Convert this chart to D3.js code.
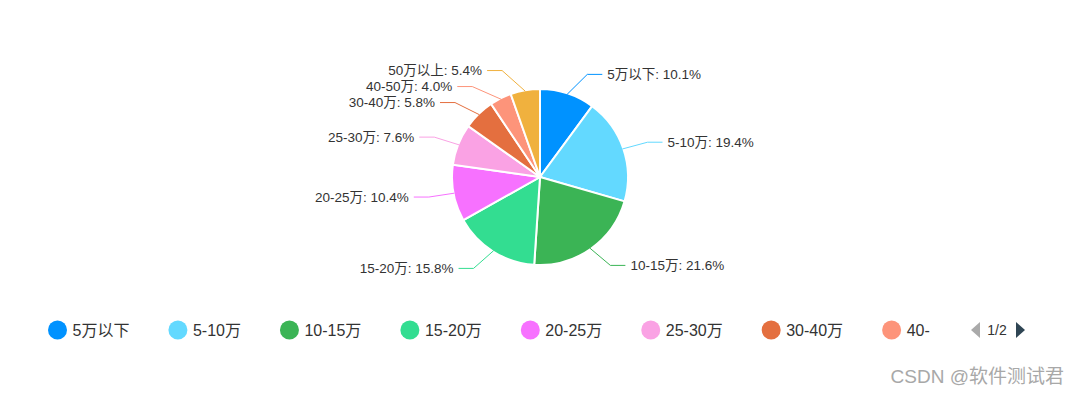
<!DOCTYPE html>
<html>
<head>
<meta charset="utf-8">
<script src="https://cdn.jsdelivr.net/npm/d3@7"></script>
<style>
  html, body { margin: 0; padding: 0; background: #fff; }
  svg { display: block; font-family: "Liberation Sans", "Noto Sans CJK SC", sans-serif; }
</style>
</head>
<body>
<div id="chart"></div>
<script>
// pie js
const categories = ['5万以下', '5-10万', '10-15万', '15-20万', '20-25万', '25-30万', '30-40万', '40-50万', '50万以上'];
const values = [10.1, 19.4, 21.6, 15.8, 10.4, 7.6, 5.8, 4.0, 5.4];
const colors = ['#0092ff', '#63d9ff', '#3bb455', '#33dd91', '#f771ff', '#faa2e4', '#e46f3f', '#fd947a', '#f0b13e'];
const legendShown = 8, pageLabel = '1/2';

let width = 1080, height = 394;
let cx = 540, cy = 177, radius = 88;

let svg = d3.select('#chart').append('svg')
    .attr('width', width)
    .attr('height', height);

let data = categories.map(function(c, i){ return {name: c, value: values[i], color: colors[i]}; });

let pie = d3.pie().sort(null).value(function(d){ return d.value; });
let arcs = pie(data);
let arc = d3.arc().innerRadius(0).outerRadius(radius);

let g = svg.append('g').attr('transform', 'translate(' + cx + ',' + cy + ')');

g.selectAll('path.slice')
    .data(arcs)
    .enter()
    .append('path')
    .attr('class', 'slice')
    .attr('d', arc)
    .attr('fill', function(d){ return d.data.color; })
    .attr('stroke', '#fff')
    .attr('stroke-width', 2);

// label layout - elbow points, then push apart on each side
let elbowR = 108, xR = 113, len2 = 15, minGap = 16;
let labels = arcs.map(function(d){
    let a = (d.startAngle + d.endAngle) / 2;
    return {
        d: d,
        a: a,
        right: Math.sin(a) >= 0,
        sx: Math.sin(a) * (radius - 1),
        sy: -Math.cos(a) * (radius - 1),
        y: -Math.cos(a) * elbowR
    };
});

function spread(side){
    let list = labels.filter(function(l){ return l.right === side; })
        .sort(function(a, b){ return a.y - b.y; });
    for (let i = 1; i < list.length; i++) {
        if (list[i].y - list[i-1].y < minGap) list[i].y = list[i-1].y + minGap;
    }
}
spread(true); spread(false);

labels.forEach(function(l){
    let dx = Math.sqrt(Math.max(xR * xR - l.y * l.y, 0));
    l.ex = l.right ? dx : -dx;
    l.hx = l.right ? l.ex + len2 : l.ex - len2;
});

g.selectAll('polyline.lbl-line')
    .data(labels)
    .enter()
    .append('polyline')
    .attr('class', 'lbl-line')
    .attr('points', function(l){ return [[l.sx, l.sy], [l.ex, l.y], [l.hx, l.y]].join(' '); })
    .attr('fill', 'none')
    .attr('stroke', function(l){ return l.d.data.color; })
    .attr('stroke-width', 1);

g.selectAll('text.lbl')
    .data(labels)
    .enter()
    .append('text')
    .attr('class', 'lbl')
    .attr('x', function(l){ return l.right ? l.hx + 5 : l.hx - 5; })
    .attr('y', function(l){ return l.y; })
    .attr('dy', '0.35em')
    .attr('text-anchor', function(l){ return l.right ? 'start' : 'end'; })
    .attr('font-size', 13.5)
    .attr('fill', '#333')
    .text(function(l){ return l.d.data.name + ': ' + l.d.data.value.toFixed(1) + '%'; });

// legend (scroll type, page 1)
let legendY = 330, dotR = 9.5, legendClipX = 930;
svg.append('clipPath').attr('id', 'legendClip')
    .append('rect').attr('x', 0).attr('y', legendY - 20).attr('width', legendClipX).attr('height', 40);

let legend = svg.append('g').attr('clip-path', 'url(#legendClip)');
let lx = 57.5;
data.slice(0, legendShown).forEach(function(d){
    let item = legend.append('g');
    item.append('circle')
        .attr('cx', lx)
        .attr('cy', legendY)
        .attr('r', dotR)
        .attr('fill', d.color);
    let t = item.append('text')
        .attr('x', lx + 15)
        .attr('y', legendY)
        .attr('dy', '0.36em')
        .attr('font-size', 16)
        .attr('fill', '#333')
        .text(d.name);
    lx = lx + 15 + t.node().getComputedTextLength() + 48.5;
});

// pager
let pager = svg.append('g');
pager.append('path')
    .attr('d', 'M980,322 L971,330 L980,338 Z')
    .attr('fill', '#aaa');
pager.append('text')
    .attr('x', 997)
    .attr('y', legendY)
    .attr('dy', '0.36em')
    .attr('text-anchor', 'middle')
    .attr('font-size', 14)
    .attr('fill', '#333')
    .text(pageLabel);
pager.append('path')
    .attr('d', 'M1016,322 L1025,330 L1016,338 Z')
    .attr('fill', '#2f4554');

// watermark
svg.append('text')
    .attr('x', 1064)
    .attr('y', 383)
    .attr('text-anchor', 'end')
    .attr('font-size', 19)
    .attr('fill', '#a8a8a8')
    .text('CSDN @软件测试君');
</script>
</body>
</html>
